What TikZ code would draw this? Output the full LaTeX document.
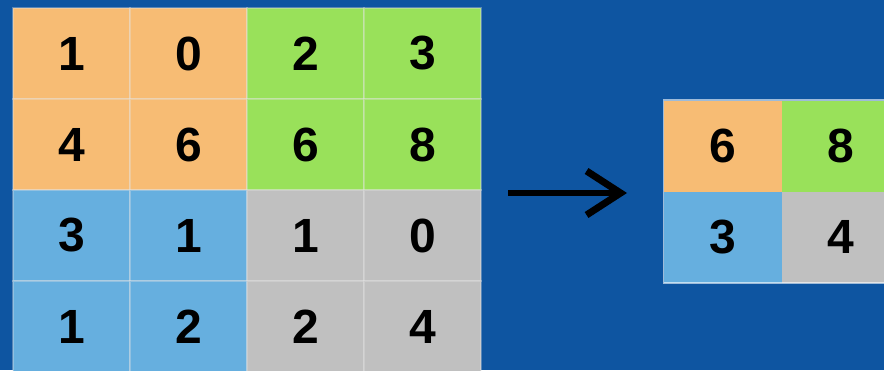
\documentclass[tikz,border=0pt]{standalone}
\usepackage{fontspec}
\setmainfont{Liberation Sans}
\usetikzlibrary{arrows.meta}
\definecolor{bg}{HTML}{0E55A1}
\definecolor{cor}{HTML}{F7BC74}
\definecolor{cgr}{HTML}{99E15A}
\definecolor{cbl}{HTML}{66AFDF}
\definecolor{cgy}{HTML}{C0C0C0}
\begin{document}
\begin{tikzpicture}[x=1pt,y=-1pt,
  cell/.style={minimum width=117pt, minimum height=91pt, inner sep=0pt,
    font=\bfseries\fontsize{48}{48}\selectfont, text=black,
    draw=white!80!gray, draw opacity=0.35, line width=1.2pt},
  rcell/.style={cell, minimum width=118pt, draw=none},
  arr/.style={line width=6pt, -{Straight Barb[length=34pt,width=44pt,line width=7pt]}}]
\fill[bg] (0,0) rectangle (884,370);
\useasboundingbox (0,0) rectangle (884,370);
% left grid
\node[cell, fill=cor] (L11) at (71.5,53.5) {1};
\node[cell, fill=cor] (L12) at (188.5,53.5) {0};
\node[cell, fill=cgr] (L13) at (305.5,53.5) {2};
\node[cell, fill=cgr] (L14) at (422.5,53.5) {3};
\node[cell, fill=cor] (L21) at (71.5,144.5) {4};
\node[cell, fill=cor] (L22) at (188.5,144.5) {6};
\node[cell, fill=cgr] (L23) at (305.5,144.5) {6};
\node[cell, fill=cgr] (L24) at (422.5,144.5) {8};
\node[cell, fill=cbl] (L31) at (71.5,235.5) {3};
\node[cell, fill=cbl] (L32) at (188.5,235.5) {1};
\node[cell, fill=cgy] (L33) at (305.5,235.5) {1};
\node[cell, fill=cgy] (L34) at (422.5,235.5) {0};
\node[cell, fill=cbl] (L41) at (71.5,326.5) {1};
\node[cell, fill=cbl] (L42) at (188.5,326.5) {2};
\node[cell, fill=cgy] (L43) at (305.5,326.5) {2};
\node[cell, fill=cgy] (L44) at (422.5,326.5) {4};
% right grid
\node[rcell, fill=cor] (R11) at (723,146) {6};
\node[rcell, fill=cgr] (R12) at (841,146) {8};
\node[rcell, fill=cbl] (R21) at (723,237) {3};
\node[rcell, fill=cgy] (R22) at (841,237) {4};
\draw[white, draw opacity=0.6, line width=1.5pt] (R11.north west) rectangle (R22.south east);
% arrow
\coordinate (a1) at (508,193);
\coordinate (a2) at (627,193);
\draw[arr, black] (a1) -- (a2);
\end{tikzpicture}
\end{document}
